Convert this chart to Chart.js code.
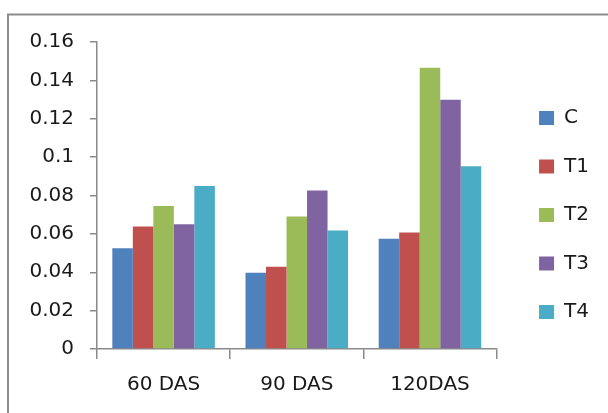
<!DOCTYPE html>
<html>
<head>
<meta charset="utf-8">
<script src="https://cdn.jsdelivr.net/npm/chart.js@4"></script>
<style>
  html, body { margin: 0; padding: 0; background: #ffffff; }
  #wrap { width: 608px; height: 413px; position: relative; }
</style>
</head>
<body>
<div id="wrap"><canvas id="chart" width="608" height="413"></canvas></div>
<script>
// Sampling stages
const categories = ['60 DAS', '90 DAS', '120DAS'];

// Treatments and their values per stage
const seriesNames = ['C', 'T1', 'T2', 'T3', 'T4'];
const valuesC  = [0.0525, 0.0397, 0.0575];
const valuesT1 = [0.0638, 0.0429, 0.0607];
const valuesT2 = [0.0745, 0.0690, 0.1466];
const valuesT3 = [0.0650, 0.0826, 0.1299];
const valuesT4 = [0.0849, 0.0617, 0.0952];

// Value axis ticks
const yTicks = [0, 0.02, 0.04, 0.06, 0.08, 0.1, 0.12, 0.14, 0.16];

const seriesValues = [valuesC, valuesT1, valuesT2, valuesT3, valuesT4];
const seriesColors = ['#4F81BD', '#C0504D', '#9BBB59', '#8064A2', '#4BACC6'];

const axisColor = '#8a8a8a';
const textColor = '#1a1a1a';
const fontFamily = '"DejaVu Sans", "Open Sans", sans-serif';
const fontSize = 20;

// Grey frame around the chart
const framePlugin = {
  id: 'frame',
  beforeDraw(chart) {
    const ctx = chart.ctx;
    ctx.save();
    ctx.fillStyle = '#ffffff';
    ctx.fillRect(0, 0, chart.width, chart.height);
    ctx.strokeStyle = '#8c8c8c';
    ctx.lineWidth = 2;
    ctx.beginPath();
    ctx.moveTo(8, chart.height + 2);
    ctx.lineTo(8, 14.5);
    ctx.lineTo(chart.width + 2, 14.5);
    ctx.stroke();
    ctx.restore();
  }
};

new Chart(document.getElementById('chart'), {
  type: 'bar',
  data: {
    labels: categories,
    datasets: seriesNames.map((name, i) => ({
      label: name,
      data: seriesValues[i],
      backgroundColor: seriesColors[i],
      borderWidth: 0,
      categoryPercentage: 0.77,
      barPercentage: 1.0,
      yAxisID: 'y'
    }))
  },
  options: {
    responsive: false,
    animation: false,
    devicePixelRatio: 1,
    layout: { padding: { top: 42, right: 9, bottom: 2, left: 0 } },
    plugins: {
      legend: {
        position: 'right',
        align: 'start',
        title: {
          display: true,
          text: ' ',
          font: { size: 10, lineHeight: 1 },
          padding: { top: 27.5, bottom: 0 }
        },
        labels: {
          boxWidth: 15,
          boxHeight: 14,
          padding: 28.5,
          color: textColor,
          font: { family: fontFamily, size: fontSize }
        }
      },
      tooltip: { enabled: false }
    },
    scales: {
      x: {
        offset: true,
        grid: {
          display: true,
          offset: true,
          drawOnChartArea: false,
          drawTicks: true,
          tickLength: 10,
          color: axisColor,
          lineWidth: 1.5
        },
        border: { display: true, color: axisColor, width: 1.5 },
        ticks: {
          color: textColor,
          padding: 14,
          maxRotation: 0,
          font: { family: fontFamily, size: fontSize }
        }
      },
      y: {
        position: 'left',
        min: yTicks[0],
        max: yTicks[yTicks.length - 1],
        afterBuildTicks(scale) {
          scale.ticks = yTicks.map(v => ({ value: v }));
        },
        afterFit(scale) { scale.width = 97; },
        grid: {
          display: true,
          drawOnChartArea: false,
          drawTicks: true,
          tickLength: 7,
          color: axisColor,
          lineWidth: 1.5
        },
        border: { display: true, color: axisColor, width: 1.5 },
        ticks: {
          color: textColor,
          padding: 16,
          font: { family: fontFamily, size: fontSize },
          callback: v => String(+Number(v).toFixed(2))
        }
      },
      gap: {
        type: 'linear',
        position: 'right',
        display: true,
        grid: { display: false, drawTicks: false },
        border: { display: false },
        ticks: { display: false },
        afterFit(scale) { scale.width = 14; }
      }
    }
  },
  plugins: [framePlugin]
});
</script>
</body>
</html>
